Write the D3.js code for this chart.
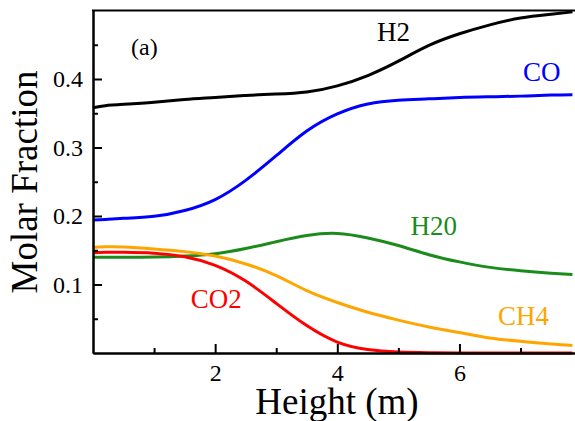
<!DOCTYPE html>
<html>
<head>
<meta charset="utf-8">
<script src="https://cdn.jsdelivr.net/npm/d3@7"></script>
<style>
  body { margin: 0; background: #fff; }
</style>
</head>
<body>
<div id="root"></div>
<script>
// sample heights (m) shared by every species
const heights = [0, 0.2, 0.5, 1, 1.5, 2, 2.5, 3, 3.5, 4, 4.5, 5, 5.5, 6, 6.5, 7, 7.5, 7.85];

const h2 = [0.358, 0.361, 0.363, 0.366, 0.37, 0.373, 0.376, 0.378, 0.381, 0.39, 0.405, 0.426, 0.449, 0.466, 0.479, 0.489, 0.4945, 0.498];
const co = [0.194, 0.195, 0.1966, 0.1995, 0.208, 0.224, 0.252, 0.288, 0.324, 0.349, 0.3635, 0.369, 0.371, 0.373, 0.374, 0.375, 0.3765, 0.377];
const h2o = [0.1397, 0.1397, 0.1397, 0.14, 0.1415, 0.145, 0.1525, 0.1625, 0.1715, 0.1745, 0.168, 0.157, 0.1435, 0.133, 0.125, 0.12, 0.1165, 0.1145];
const ch4 = [0.1543, 0.155, 0.1548, 0.152, 0.148, 0.1415, 0.13, 0.113, 0.091, 0.0737, 0.0595, 0.048, 0.038, 0.03, 0.022, 0.017, 0.013, 0.0108];
const co2 = [0.1465, 0.147, 0.147, 0.1457, 0.1405, 0.128, 0.105, 0.0725, 0.04, 0.016, 0.005, 0.0015, 0.0005, 0, 0, 0, 0, 0];

const seriesNames = ["H2", "CO", "H20", "CH4", "CO2"];
const seriesValues = [h2, co, h2o, ch4, co2];
const seriesColors = ["#000000", "#0000ff", "#1b8c1b", "#ffa500", "#ff0000"];

const xMajorTicks = [2, 4, 6];
const xMinorTicks = [1, 3, 5, 7];
const yMajorTicks = [0.1, 0.2, 0.3, 0.4];
const yMinorTicks = [0.05, 0.15, 0.25, 0.35, 0.45];

// label anchors, in data units (height, fraction)
const labelSpots = [[4.65, 0.455], [7.04, 0.397], [5.2, 0.172], [6.63, 0.041], [1.6, 0.065]];

const width = 575,
  height = 421,
  serif = "'Liberation Serif', 'Times New Roman', serif";

const xScale = d3.scaleLinear().domain([0, 7.9]).range([93, 575.5]);
const yScale = d3.scaleLinear().domain([0, 0.5]).range([353, 10.5]);

const svg = d3
  .select("#root")
  .append("svg")
  .attr("width", width)
  .attr("height", height)
  .attr("viewBox", [0, 0, width, height]);

// curves
const line = d3
  .line()
  .x((d) => xScale(d[0]))
  .y((d) => yScale(d[1]))
  .curve(d3.curveNatural);

svg
  .append("g")
  .attr("id", "curves")
  .selectAll("path")
  .data(seriesValues)
  .join("path")
  .attr("fill", "none")
  .attr("stroke", (d, i) => seriesColors[i])
  .attr("stroke-width", 3)
  .attr("d", (vals) => line(vals.map((v, i) => [heights[i], v])));

// axes (ticks point inward)
function styleAxis(g) {
  g.attr("font-family", serif).attr("font-size", 24);
  g.select(".domain").attr("stroke-width", 2);
  g.selectAll(".tick line").attr("stroke-width", 2);
  g.selectAll(".tick text").attr("fill", "#000");
}

svg
  .append("g")
  .attr("transform", `translate(0, ${yScale(0)})`)
  .call(d3.axisBottom(xScale).tickValues(xMinorTicks).tickSize(-5).tickSizeOuter(0).tickFormat(""))
  .call(styleAxis);

svg
  .append("g")
  .attr("transform", `translate(0, ${yScale(0)})`)
  .call(d3.axisBottom(xScale).tickValues(xMajorTicks).tickSize(-9).tickSizeOuter(0).tickPadding(11))
  .call(styleAxis);

svg
  .append("g")
  .attr("transform", `translate(${xScale(0)}, 0)`)
  .call(d3.axisLeft(yScale).tickValues(yMinorTicks).tickSize(-5).tickSizeOuter(0).tickFormat(""))
  .call(styleAxis);

svg
  .append("g")
  .attr("transform", `translate(${xScale(0)}, 0)`)
  .call(
    d3.axisLeft(yScale).tickValues(yMajorTicks).tickSize(-9).tickSizeOuter(0).tickPadding(10).tickFormat(d3.format(".1f"))
  )
  .call(styleAxis);

// top frame line
svg
  .append("line")
  .attr("x1", xScale(0) - 1)
  .attr("x2", width)
  .attr("y1", yScale(0.5))
  .attr("y2", yScale(0.5))
  .attr("stroke", "#000")
  .attr("stroke-width", 2);

// axis titles
svg
  .append("text")
  .attr("x", 337)
  .attr("y", 414)
  .attr("text-anchor", "middle")
  .attr("font-family", serif)
  .attr("font-size", 37)
  .text("Height (m)");

svg
  .append("text")
  .attr("transform", "translate(37, 182) rotate(-90)")
  .attr("text-anchor", "middle")
  .attr("font-family", serif)
  .attr("font-size", 37)
  .text("Molar Fraction");

// panel tag
svg
  .append("text")
  .attr("x", 131)
  .attr("y", 55)
  .attr("font-family", serif)
  .attr("font-size", 24)
  .text("(a)");

// species labels
svg
  .append("g")
  .selectAll("text")
  .data(seriesNames)
  .join("text")
  .attr("x", (d, i) => xScale(labelSpots[i][0]))
  .attr("y", (d, i) => yScale(labelSpots[i][1]))
  .attr("font-family", serif)
  .attr("font-size", 27)
  .attr("fill", (d, i) => seriesColors[i])
  .text((d) => d);
</script>
</body>
</html>
